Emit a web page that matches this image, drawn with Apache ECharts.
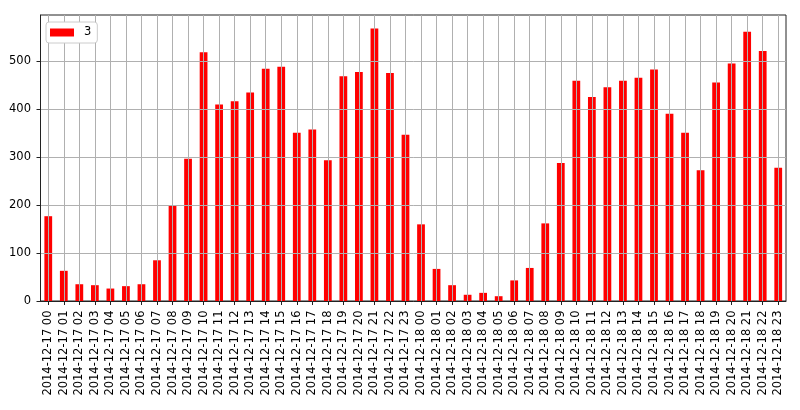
<!DOCTYPE html>
<html><head><meta charset="utf-8">
<script src="https://cdn.jsdelivr.net/npm/echarts@6/dist/echarts.min.js"></script>
<style>html,body{margin:0;padding:0;background:#fff}#c{width:800px;height:410px}</style>
</head><body><div id="c"></div>
<script>
const seriesName = '3';
const categories = [
 '2014-12-17 00','2014-12-17 01','2014-12-17 02','2014-12-17 03','2014-12-17 04','2014-12-17 05',
 '2014-12-17 06','2014-12-17 07','2014-12-17 08','2014-12-17 09','2014-12-17 10','2014-12-17 11',
 '2014-12-17 12','2014-12-17 13','2014-12-17 14','2014-12-17 15','2014-12-17 16','2014-12-17 17',
 '2014-12-17 18','2014-12-17 19','2014-12-17 20','2014-12-17 21','2014-12-17 22','2014-12-17 23',
 '2014-12-18 00','2014-12-18 01','2014-12-18 02','2014-12-18 03','2014-12-18 04','2014-12-18 05',
 '2014-12-18 06','2014-12-18 07','2014-12-18 08','2014-12-18 09','2014-12-18 10','2014-12-18 11',
 '2014-12-18 12','2014-12-18 13','2014-12-18 14','2014-12-18 15','2014-12-18 16','2014-12-18 17',
 '2014-12-18 18','2014-12-18 19','2014-12-18 20','2014-12-18 21','2014-12-18 22','2014-12-18 23'
];
const values = [
 177, 63, 35, 33, 26, 31, 35, 85, 200, 297, 519, 410,
 417, 435, 485, 489, 351, 358, 294, 469, 478, 569, 476, 347,
 160, 67, 33, 13, 17, 10, 43, 69, 162, 288, 460, 426,
 446, 460, 466, 483, 391, 351, 273, 456, 496, 562, 522, 278
];
const yTicks = [0, 100, 200, 300, 400, 500];
const yMax = 597;

const font = 'DejaVu Sans';
const chart = echarts.init(document.getElementById('c'), null, {renderer: 'canvas'});
chart.setOption({
  animation: false,
  backgroundColor: '#fff',
  textStyle: {fontFamily: font},
  grid: {left: 40.5, right: 14, top: 15, bottom: 109, show: true, borderColor: '#222', borderWidth: 1, backgroundColor: 'transparent'},
  legend: {
    left: 46, top: 22, orient: 'vertical',
    data: [{name: seriesName, icon: 'rect'}],
    itemWidth: 24, itemHeight: 8,
    padding: [3, 6, 3, 4],
    backgroundColor: '#fff', borderColor: '#ccc', borderWidth: 1, borderRadius: 3,
    textStyle: {fontFamily: font, fontSize: 11.5, color: '#000', padding: [0, 0, 0, 5], lineHeight: 15}
  },
  xAxis: {
    type: 'category', data: categories, boundaryGap: true, z: 3,
    axisLine: {show: true, lineStyle: {color: '#222', width: 1}},
    axisTick: {show: true, alignWithLabel: true, length: 4, inside: false, lineStyle: {color: '#222'}},
    axisLabel: {rotate: 90, interval: 0, margin: 9.5, fontFamily: font, fontSize: 11.5, color: '#000'},
    splitLine: {show: true, alignWithLabel: true, interval: 0, lineStyle: {color: '#b0b0b0', width: 1}}
  },
  yAxis: {
    type: 'value', min: 0, max: yMax, interval: 100, z: 3,
    axisLine: {show: true, lineStyle: {color: '#222', width: 1}},
    axisTick: {show: true, length: 4, lineStyle: {color: '#222'}},
    axisLabel: {margin: 9.5, fontFamily: font, fontSize: 11.5, color: '#000', showMaxLabel: false,
      formatter: v => yTicks.includes(v) ? String(v) : ''},
    splitLine: {show: true, showMaxLine: false, lineStyle: {color: '#b0b0b0', width: 1}}
  },
  series: [{
    name: seriesName, type: 'bar', data: values, barWidth: '50%', z: 2,
    itemStyle: {color: '#ff0000'}
  }]
});
</script></body></html>
